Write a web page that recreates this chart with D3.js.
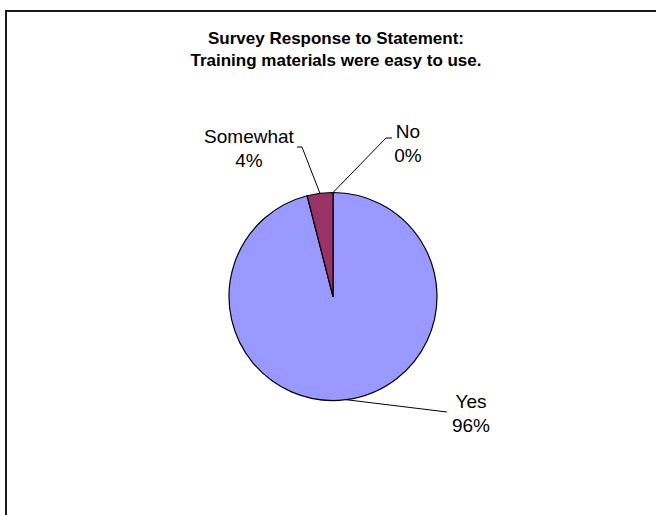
<!DOCTYPE html>
<html>
<head>
<meta charset="utf-8">
<script src="https://cdnjs.cloudflare.com/ajax/libs/d3/7.8.5/d3.min.js"></script>
<style>
  html, body { margin: 0; padding: 0; background: #fff; }
  svg { display: block; }
  text { font-family: "Liberation Sans", Arial, sans-serif; fill: #000; }
</style>
</head>
<body>
<script>
// Survey answers and their shares (percent)
const categories = ["Yes", "Somewhat", "No"];
const values = [96, 4, 0];
const colors = ["#9999FF", "#993366", "#FFFFCC"];
const titleLines = ["Survey Response to Statement:", "Training materials were easy to use."];

const W = 656, H = 515;
const cx = 333, cy = 296.5, R = 104;

// label placement: elbow point of the leader line and text centre / first baseline
const labelLayout = {
  "Yes":      { elbow: [447, 412], tail: 0,  text: [471, 408] },
  "Somewhat": { elbow: [302, 147], tail: -5, text: [249, 143] },
  "No":       { elbow: [386, 138], tail: 6,  text: [408, 138] }
};

const svg = d3.select("body").append("svg")
  .attr("width", W).attr("height", H);

// chart frame (runs past the right and bottom edges)
svg.append("rect")
  .attr("x", 6).attr("y", 11)
  .attr("width", W + 20).attr("height", H + 20)
  .attr("fill", "#fff").attr("stroke", "#1a1a1a").attr("stroke-width", 2);

// title
const title = svg.append("text")
  .attr("text-anchor", "middle")
  .attr("font-weight", "bold")
  .attr("font-size", 17);
titleLines.forEach((t, i) => {
  title.append("tspan").attr("x", 336).attr("y", 44 + i * 22).text(t);
});

const data = categories.map((c, i) => ({ cat: c, value: values[i], color: colors[i] }));
const pie = d3.pie().sort(null).value(d => d.value)(data);
const arc = d3.arc().innerRadius(0).outerRadius(R);
const total = d3.sum(values);

const g = svg.append("g").attr("transform", `translate(${cx},${cy})`);

g.selectAll("path.slice")
  .data(pie.filter(d => d.data.value > 0))
  .join("path")
  .attr("class", "slice")
  .attr("d", arc)
  .attr("fill", d => d.data.color)
  .attr("stroke", "#000")
  .attr("stroke-width", 1.2)
  .attr("stroke-linejoin", "round");

// leader lines and labels
pie.forEach(d => {
  const lay = labelLayout[d.data.cat];
  const mid = (d.startAngle + d.endAngle) / 2;
  const sx = cx + R * Math.sin(mid);
  const sy = cy - R * Math.cos(mid);
  const ex = lay.elbow[0], ey = lay.elbow[1];
  const pts = [[sx, sy], [ex, ey]];
  if (lay.tail) pts.push([ex + lay.tail, ey]);
  svg.append("path")
    .attr("d", d3.line()(pts))
    .attr("fill", "none")
    .attr("stroke", "#000")
    .attr("stroke-width", 1);

  const pct = Math.round(d.data.value / total * 100) + "%";
  const t = svg.append("text")
    .attr("text-anchor", "middle")
    .attr("font-size", 19);
  t.append("tspan").attr("x", lay.text[0]).attr("y", lay.text[1]).text(d.data.cat);
  t.append("tspan").attr("x", lay.text[0]).attr("y", lay.text[1] + 24).text(pct);
});
</script>
</body>
</html>
